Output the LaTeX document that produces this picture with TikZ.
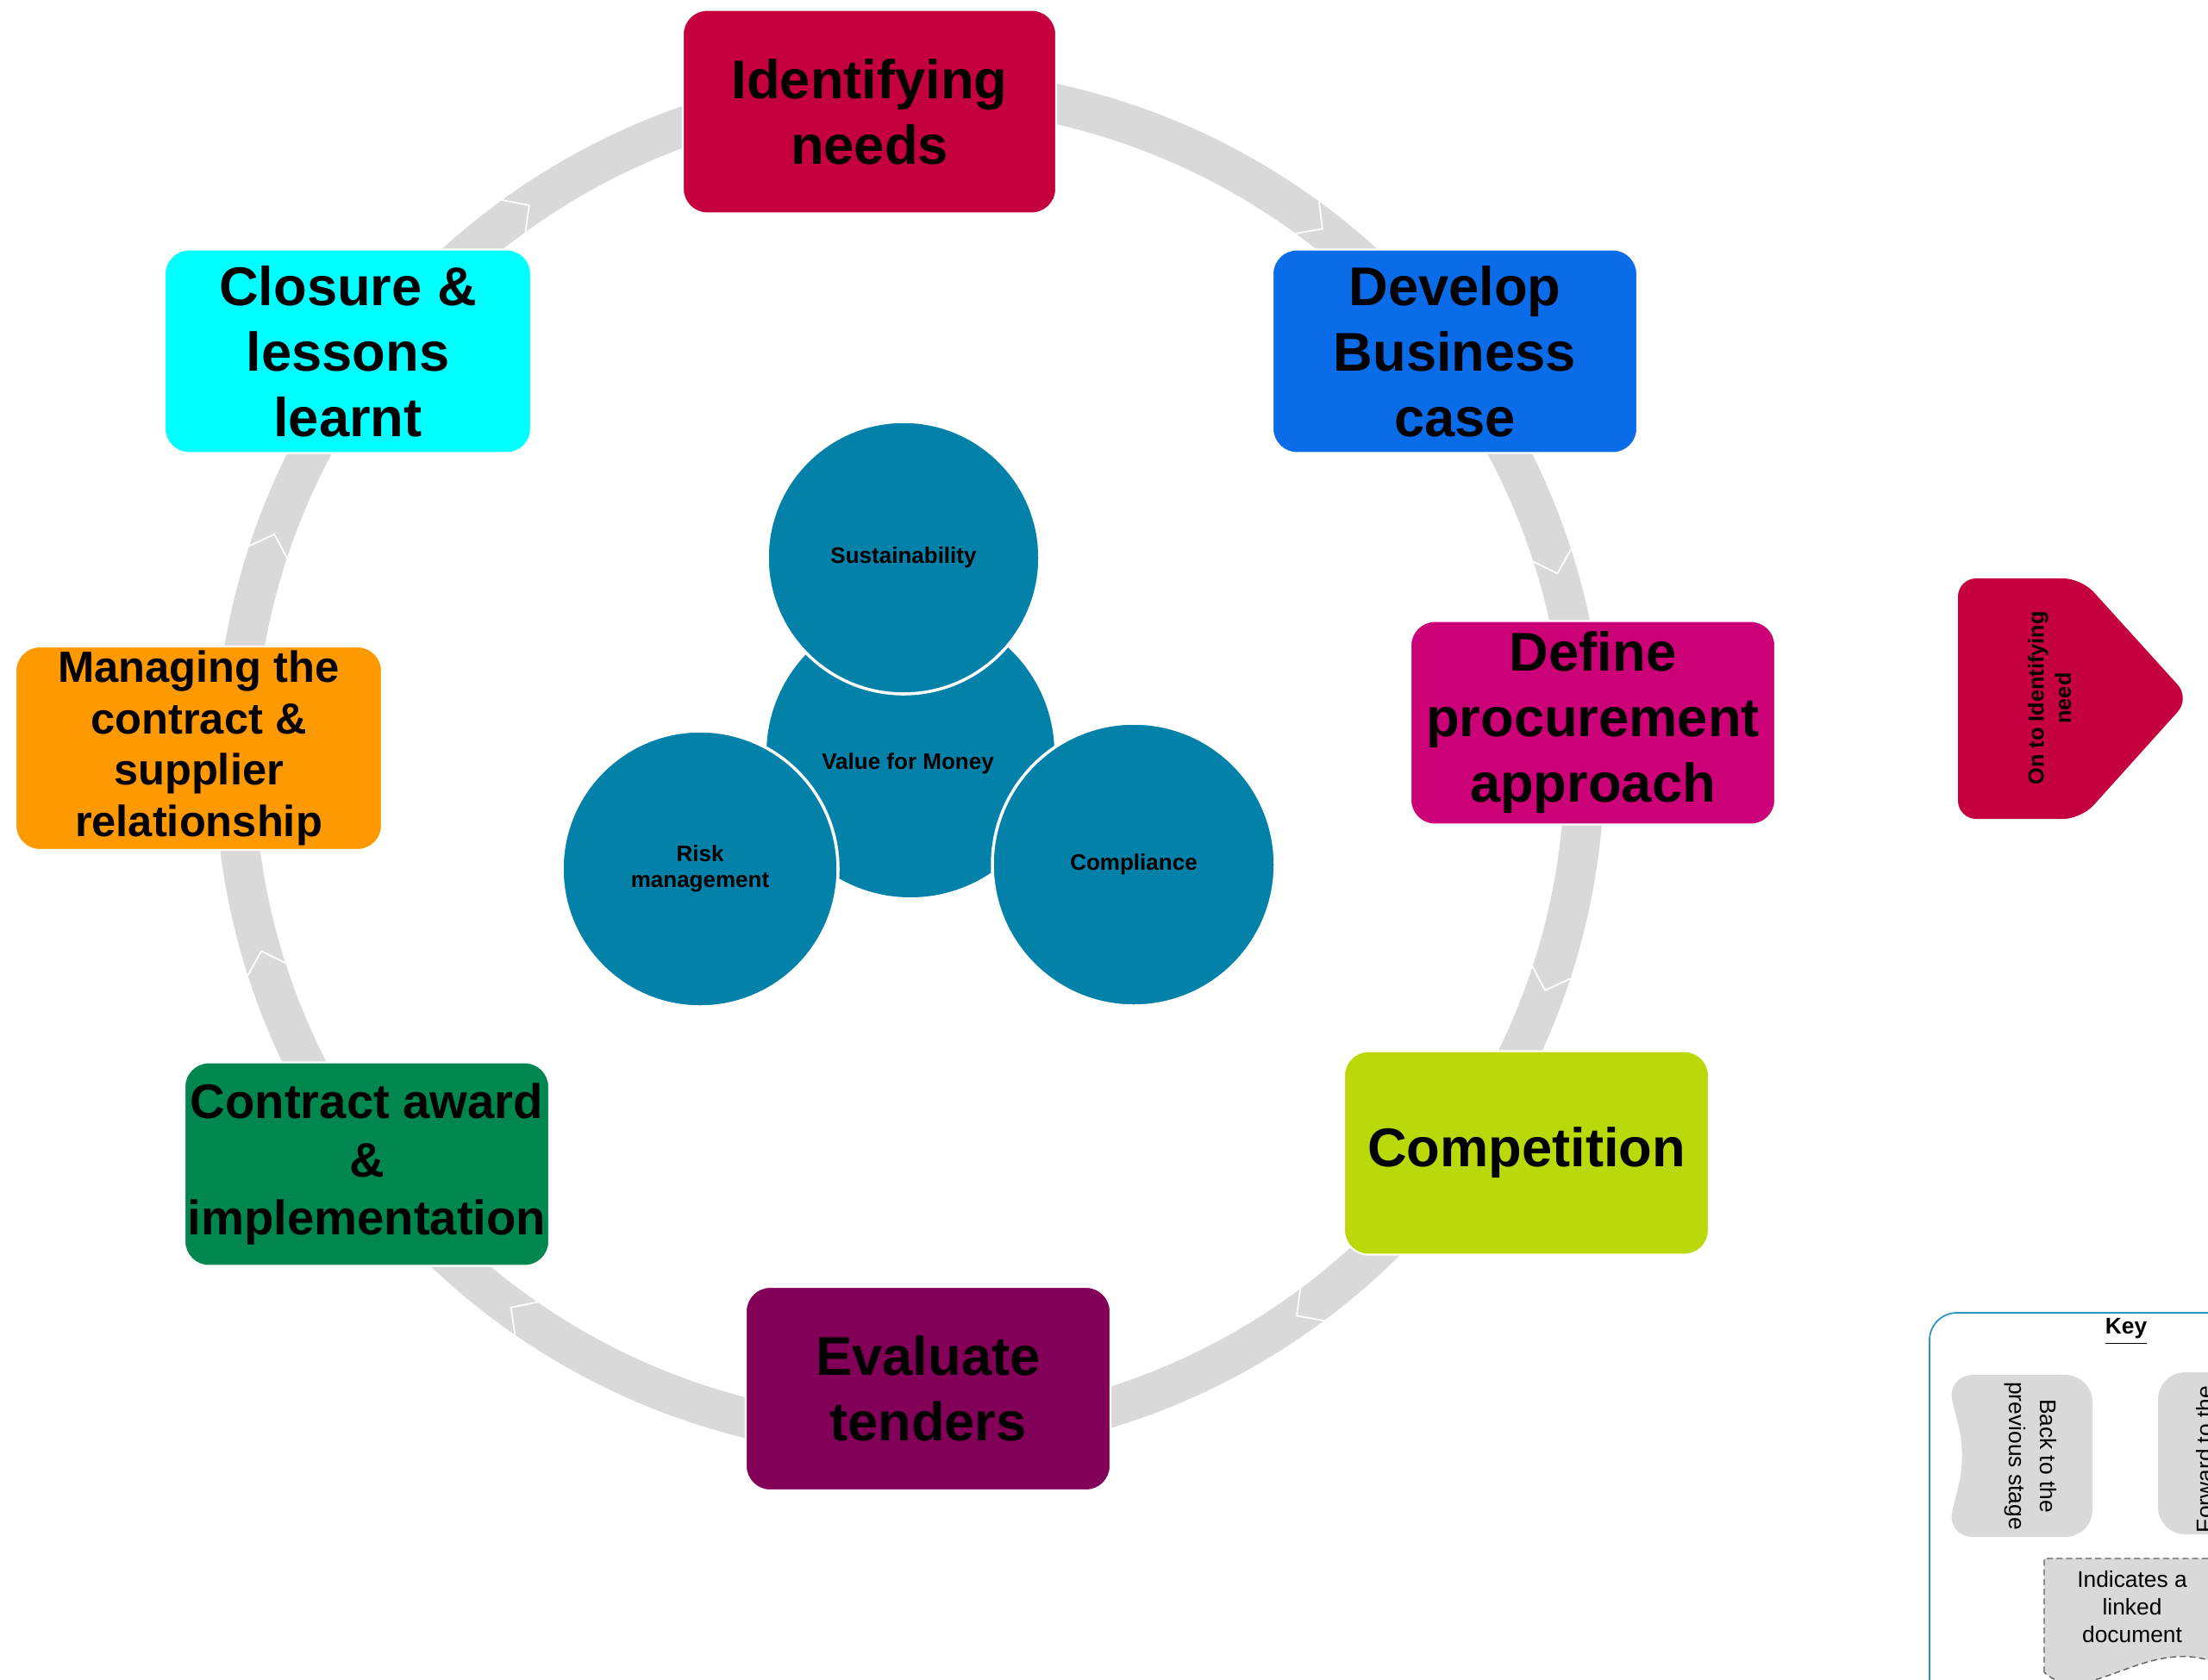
\documentclass[tikz,border=0pt]{standalone}
\usepackage{fontspec}
\setmainfont{Liberation Sans}
\usepackage{tikz}
\usetikzlibrary{positioning}

\definecolor{ringgrey}{HTML}{D9D9D9}
\definecolor{needsred}{HTML}{C4003F}
\definecolor{caseblue}{HTML}{0A6CE9}
\definecolor{approachpink}{HTML}{CC0077}
\definecolor{compgreen}{HTML}{BBD80A}
\definecolor{tenderpurple}{HTML}{820057}
\definecolor{awardgreen}{HTML}{00864F}
\definecolor{manageorange}{HTML}{FF9900}
\definecolor{closurecyan}{HTML}{00FFFF}
\definecolor{hubblue}{HTML}{0381A9}
\definecolor{keyblue}{HTML}{2B95BD}
\definecolor{docgrey}{HTML}{606060}

\begin{document}
\begin{tikzpicture}[
  stage/.style={rounded corners=8pt, draw=white, line width=0.6pt, minimum width=4.23cm,
    minimum height=2.36cm, align=center, inner sep=1pt, font=\bfseries\fontsize{18}{21.6}\selectfont},
  hub/.style={circle, fill=hubblue, align=center, inner sep=0pt, font=\bfseries\fontsize{7.4}{8.4}\selectfont},
  petal/.style={hub, draw=white, line width=1pt},
  chev/.style={white, line width=0.5pt},
  keytext/.style={align=center, font=\fontsize{7.5}{9}\selectfont}
]
\useasboundingbox (0,0) rectangle (25.61,-19.48);
\clip (0,0) rectangle (25.61,-19.48);

\coordinate (ring) at (10.55,-8.85);
\draw[ringgrey, line width=0.46cm] (ring) circle (7.83);
\foreach \a in {124.3,52.3,16.3,-19.7,-55,-126.2,-163.8,160.2}
  \draw[chev] ([shift={(\a+1.6:8.06)}]ring) -- ([shift={(\a:7.83)}]ring) -- ([shift={(\a+1.6:7.60)}]ring);

\node[stage, fill=needsred, minimum width=4.33cm] (needs) at (10.085,-1.295) {Identifying\\needs};
\node[stage, fill=caseblue] (case) at (16.875,-4.075) {Develop\\Business\\case};
\node[stage, fill=approachpink] (approach) at (18.475,-8.385) {Define\\procurement\\approach};
\node[stage, fill=compgreen] (comp) at (17.705,-13.375) {Competition};
\node[stage, fill=tenderpurple] (tenders) at (10.765,-16.11) {Evaluate\\tenders};
\node[stage, fill=awardgreen, font=\bfseries\fontsize{16}{19.2}\selectfont] (award) at (4.255,-13.505) {Contract award\\\&\\implementation};
\node[stage, fill=manageorange, minimum width=4.25cm, inner sep=0pt, font=\bfseries\fontsize{14.4}{17}\selectfont] (manage) at (2.305,-8.68) {Managing the\\contract \&\\supplier\\relationship};
\node[stage, fill=closurecyan, minimum width=4.25cm] (closure) at (4.035,-4.075) {Closure \&\\lessons\\learnt};

\node[hub, minimum size=3.34cm] (vfm) at (10.56,-8.74) {};
\node[hub, fill=none] (vfmtext) at (10.53,-8.86) {Value for Money};
\node[petal, minimum size=3.16cm] (sust) at (10.48,-6.47) {Sustainability};
\node[petal, minimum size=3.2cm] (risk) at (8.12,-10.08) {Risk\\management};
\node[petal, minimum size=3.28cm] (compl) at (13.15,-10.03) {Compliance};

\fill[needsred, rounded corners=6pt] (22.71,-6.71) -- (24.14,-6.71) -- (25.40,-8.10) -- (24.14,-9.50) -- (22.71,-9.50) -- cycle;
\node[rotate=90, align=center, font=\bfseries\fontsize{7.2}{9}\selectfont] (onward) at (23.77,-8.10) {On to Identifying\\need};

\draw[keyblue, line width=0.5pt, rounded corners=9pt] (22.38,-15.23) rectangle (26.5,-20.5);
\node[font=\bfseries\fontsize{7.5}{9}\selectfont] (keytitle) at (24.66,-15.45) {\underline{Key}};
\fill[ringgrey, rounded corners=9pt] (22.57,-15.95) -- (24.27,-15.95) -- (24.27,-17.83) -- (22.57,-17.83) -- (22.80,-16.89) -- cycle;
\node[keytext, rotate=-90, font=\fontsize{7.5}{10.2}\selectfont] (back) at (23.55,-16.89) {Back to the\\previous stage};
\fill[ringgrey, rounded corners=9pt] (25.03,-15.92) rectangle (26.7,-17.80);
\node[keytext, rotate=90] (fwd) at (25.575,-16.93) {Forward to the};
\filldraw[fill=ringgrey, draw=docgrey, line width=0.4pt, dash pattern=on 2pt off 1.2pt]
  (23.71,-19.40) -- (23.71,-18.08) -- (25.73,-18.08) -- (25.73,-19.30)
  .. controls (24.9,-18.95) and (24.2,-19.85) .. (23.71,-19.40) -- cycle;
\node[keytext] (doc) at (24.73,-18.64) {Indicates a\\linked\\document};
\end{tikzpicture}
\end{document}
